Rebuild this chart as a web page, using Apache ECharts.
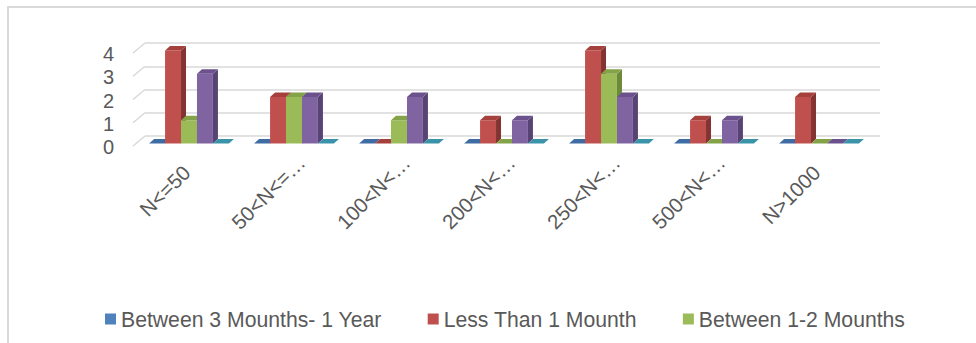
<!DOCTYPE html>
<html>
<head>
<meta charset="utf-8">
<script src="https://cdn.jsdelivr.net/npm/echarts@6/dist/echarts.min.js"></script>
<style>
  html, body { margin: 0; padding: 0; background: #ffffff; }
  #chart { width: 976px; height: 343px; }
</style>
</head>
<body>
<div id="chart"></div>
<script>
// Size classes (N) on the category axis
const categories = ['N<=50', '50<N<=\u2026', '100<N<\u2026', '200<N<\u2026', '250<N<\u2026', '500<N<\u2026', 'N>1000'];

// Counts per duration group
const between3MonthsAnd1Year = [0, 0, 0, 0, 0, 0, 0];
const lessThan1Month        = [4, 2, 0, 1, 4, 1, 2];
const between1And2Months    = [1, 2, 1, 0, 3, 0, 0];
const series4Values         = [3, 2, 2, 1, 2, 1, 0];
const series5Values         = [0, 0, 0, 0, 0, 0, 0];

const seriesNames = ['Between 3 Mounths- 1 Year', 'Less Than 1 Mounth', 'Between 1-2 Mounths', 'Series 4', 'Series 5'];
const legendNames = ['Between 3 Mounths- 1 Year', 'Less Than 1 Mounth', 'Between 1-2 Mounths'];

// Value axis ticks
const yTicks = [0, 1, 2, 3, 4];

// Face colours for the pseudo-3D columns: front, side, top
const palettes = [
  { front: '#4f81bd', side: '#385d8a', top: '#3f6ca3' },
  { front: '#c0504d', side: '#833331', top: '#a6403d' },
  { front: '#9bbb59', side: '#6d8a3a', top: '#84a247' },
  { front: '#8064a2', side: '#574473', top: '#6b528c' },
  { front: '#4bacc6', side: '#337e92', top: '#3b93aa' }
];

const DEPTH_X = 5, DEPTH_Y = -4.5;   // column depth projection
const FRONT_SHIFT_X = -8.5, FRONT_SHIFT_Y = 7.5; // front plane offset from the back wall
const BAR_FRAC = 0.152;              // column width as a fraction of the category band
const GROUP_COUNT = 5;

function makeColumnSeries(name, values, idx) {
  const pal = palettes[idx];
  return {
    type: 'custom',
    name: name,
    coordinateSystem: 'cartesian2d',
    clip: false,
    silent: true,
    itemStyle: { color: pal.front },
    data: values.map((v, i) => [i, v]),
    encode: { x: 0, y: 1 },
    renderItem: function (params, api) {
      const cat = api.value(0);
      const val = api.value(1);
      const base = api.coord([cat, 0]);
      const topPt = api.coord([cat, val]);
      const band = api.size([1, 0])[0];
      const bw = band * BAR_FRAC;
      const x0 = base[0] + FRONT_SHIFT_X - bw * GROUP_COUNT / 2 + idx * bw;
      const x1 = x0 + bw;
      const yBot = base[1] + FRONT_SHIFT_Y;
      const yTop = topPt[1] + FRONT_SHIFT_Y;
      const children = [];
      if (yBot - yTop > 0.01) {
        children.push({
          type: 'polygon',
          shape: { points: [[x1, yTop], [x1 + DEPTH_X, yTop + DEPTH_Y], [x1 + DEPTH_X, yBot + DEPTH_Y], [x1, yBot]] },
          style: { fill: pal.side }
        });
        children.push({
          type: 'rect',
          shape: { x: x0, y: yTop, width: bw, height: yBot - yTop },
          style: { fill: pal.front }
        });
      }
      children.push({
        type: 'polygon',
        shape: { points: [[x0, yTop], [x0 + DEPTH_X, yTop + DEPTH_Y], [x1 + DEPTH_X, yTop + DEPTH_Y], [x1, yTop]] },
        style: { fill: pal.top }
      });
      return { type: 'group', children: children };
    }
  };
}

// Short receding lines on the side wall, one per value tick
const wallSeries = {
  type: 'custom',
  name: 'side wall',
  coordinateSystem: 'cartesian2d',
  clip: false,
  silent: true,
  z: 1,
  data: yTicks.map(v => [0, v]),
  encode: { x: 0, y: 1 },
  renderItem: function (params, api) {
    const p = api.coord([0, api.value(1)]);
    const band = api.size([1, 0])[0];
    const xl = p[0] - band / 2;
    return {
      type: 'line',
      shape: { x1: xl, y1: p[1], x2: xl - 12, y2: p[1] + 10 },
      style: { stroke: '#d9d9d9', lineWidth: 1.5 }
    };
  }
};

const valueSets = [between3MonthsAnd1Year, lessThan1Month, between1And2Months, series4Values, series5Values];

const chart = echarts.init(document.getElementById('chart'), null, { renderer: 'svg' });
chart.setOption({
  backgroundColor: '#ffffff',
  animation: false,
  textStyle: { fontFamily: 'Liberation Sans, Arial, sans-serif' },
  graphic: [{
    type: 'rect',
    silent: true,
    shape: { x: 8, y: 7, width: 1000, height: 400 },
    style: { fill: 'none', stroke: '#d9d9d9', lineWidth: 2 }
  }],
  grid: { left: 145, right: 96, top: 43, bottom: 207 },
  legend: {
    data: legendNames,
    left: 105,
    top: 308,
    padding: 0,
    itemGap: 46,
    itemWidth: 11,
    itemHeight: 11,
    icon: 'rect',
    selectedMode: false,
    textStyle: { fontSize: 21.2, color: '#595959', fontFamily: 'Liberation Sans, Arial, sans-serif', lineHeight: 22 }
  },
  xAxis: {
    type: 'category',
    data: categories,
    boundaryGap: true,
    axisLine: { show: false },
    axisTick: { show: false },
    splitLine: { show: false },
    axisLabel: {
      interval: 0,
      rotate: 45,
      margin: 22,
      color: '#595959',
      fontSize: 20.5,
      fontFamily: 'Liberation Sans, Arial, sans-serif',
      // truncated labels sit a little further along their baseline
      formatter: function (v) {
        return v.endsWith('\u2026') ? '{cut|' + v + '}' : '{full|' + v + '}';
      },
      rich: {
        full: { padding: [0, 15.5, 0, 0], fontSize: 20.5, color: '#595959', fontFamily: 'Liberation Sans, Arial, sans-serif' },
        cut: { padding: [0, 1.5, 0, 0], fontSize: 20.5, color: '#595959', fontFamily: 'Liberation Sans, Arial, sans-serif' }
      }
    }
  },
  yAxis: {
    type: 'value',
    min: 0,
    max: 4,
    interval: 1,
    axisLine: { show: false },
    axisTick: { show: false },
    splitLine: { show: true, lineStyle: { color: '#d9d9d9', width: 1.5 } },
    axisLabel: {
      margin: 31,
      verticalAlign: 'top',
      lineHeight: 22,
      fontSize: 20,
      color: '#595959',
      fontFamily: 'Liberation Sans, Arial, sans-serif'
    }
  },
  series: [wallSeries].concat(valueSets.map((vals, i) => makeColumnSeries(seriesNames[i], vals, i)))
});
</script>
</body>
</html>
